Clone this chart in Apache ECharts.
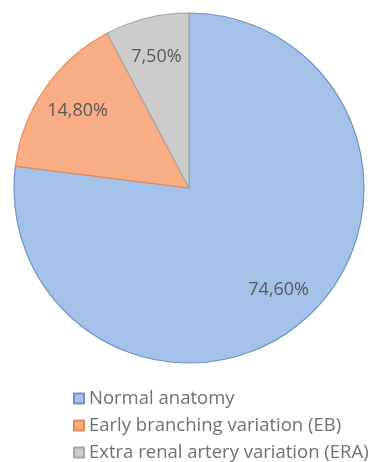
<!DOCTYPE html>
<html>
<head>
<meta charset="utf-8">
<script src="https://cdn.jsdelivr.net/npm/echarts@6/dist/echarts.min.js"></script>
<style>
  html, body { margin: 0; padding: 0; background: #fff; }
  #chart { width: 379px; height: 462px; }
</style>
</head>
<body>
<div id="chart"></div>
<script>
const categories = ['Normal anatomy', 'Early branching variation (EB)', 'Extra renal artery variation (ERA)'];
const values = [74.6, 14.8, 7.5];
const labels = ['74,60%', '14,80%', '7,50%'];

const fills = ['#a4c1e9', '#f8ad84', '#cccccc'];
const borders = ['#6f94c8', '#e98a55', '#a6a6a6'];

const myChart = echarts.init(document.getElementById('chart'));

const pieData = categories.map((name, i) => ({
  name: name,
  value: values[i],
  itemStyle: { color: fills[i], borderColor: borders[i] }
}));

// second, transparent ring only carries the labels (puts them further out)
const labelData = categories.map((name, i) => ({
  name: name,
  value: values[i],
  label: { formatter: labels[i] }
}));

const getOption = () => {
  return {
    animation: false,
    legend: {
      orient: 'vertical',
      left: 73,
      top: 389,
      height: 80,
      padding: 0,
      itemWidth: 10,
      itemHeight: 10,
      itemGap: 8,
      icon: 'rect',
      selectedMode: false,
      data: categories,
      textStyle: {
        fontFamily: 'Open Sans',
        fontSize: 18.5,
        lineHeight: 18,
        color: '#707070'
      }
    },
    series: [
      {
        type: 'pie',
        center: [189, 188],
        radius: [0, 175],
        startAngle: 90,
        clockwise: true,
        silent: true,
        label: { show: false },
        labelLine: { show: false },
        itemStyle: { borderWidth: 1.2 },
        data: pieData
      },
      {
        type: 'pie',
        center: [189, 188],
        radius: [90, 175],
        startAngle: 90,
        clockwise: true,
        silent: true,
        legendHoverLink: false,
        itemStyle: { color: 'rgba(0,0,0,0)', borderWidth: 0 },
        label: {
          show: true,
          position: 'inside',
          fontFamily: 'Open Sans',
          fontSize: 18,
          color: '#5a5a5a'
        },
        labelLine: { show: false },
        data: labelData
      }
    ]
  };
};

myChart.setOption(getOption());
</script>
</body>
</html>
